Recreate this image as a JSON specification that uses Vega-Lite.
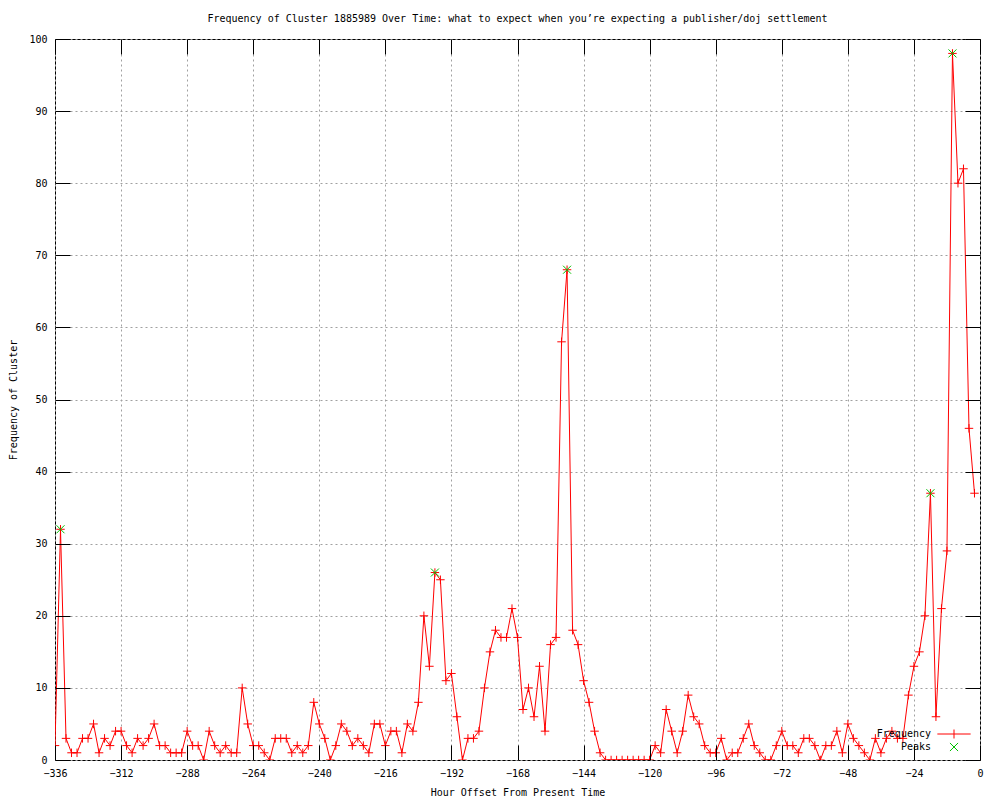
{
  "$schema": "https://vega.github.io/schema/vega-lite/v6.json",
  "width": 925,
  "height": 721,
  "autosize": {"type": "none"},
  "padding": {"left": 55, "top": 39, "right": 20, "bottom": 40},
  "background": "white",
  "title": {"text": "Frequency of Cluster 1885989 Over Time: what to expect when you’re expecting a publisher/doj settlement", "anchor": "middle", "offset": 10},
  "data": {"values": [
    {"h":-336,"f":2},{"h":-334,"f":32,"p":1},{"h":-332,"f":3},{"h":-330,"f":1},{"h":-328,"f":1},{"h":-326,"f":3},{"h":-324,"f":3},{"h":-322,"f":5},{"h":-320,"f":1},{"h":-318,"f":3},
    {"h":-316,"f":2},{"h":-314,"f":4},{"h":-312,"f":4},{"h":-310,"f":2},{"h":-308,"f":1},{"h":-306,"f":3},{"h":-304,"f":2},{"h":-302,"f":3},{"h":-300,"f":5},{"h":-298,"f":2},
    {"h":-296,"f":2},{"h":-294,"f":1},{"h":-292,"f":1},{"h":-290,"f":1},{"h":-288,"f":4},{"h":-286,"f":2},{"h":-284,"f":2},{"h":-282,"f":0},{"h":-280,"f":4},{"h":-278,"f":2},
    {"h":-276,"f":1},{"h":-274,"f":2},{"h":-272,"f":1},{"h":-270,"f":1},{"h":-268,"f":10},{"h":-266,"f":5},{"h":-264,"f":2},{"h":-262,"f":2},{"h":-260,"f":1},{"h":-258,"f":0},
    {"h":-256,"f":3},{"h":-254,"f":3},{"h":-252,"f":3},{"h":-250,"f":1},{"h":-248,"f":2},{"h":-246,"f":1},{"h":-244,"f":2},{"h":-242,"f":8},{"h":-240,"f":5},{"h":-238,"f":3},
    {"h":-236,"f":0},{"h":-234,"f":2},{"h":-232,"f":5},{"h":-230,"f":4},{"h":-228,"f":2},{"h":-226,"f":3},{"h":-224,"f":2},{"h":-222,"f":1},{"h":-220,"f":5},{"h":-218,"f":5},
    {"h":-216,"f":2},{"h":-214,"f":4},{"h":-212,"f":4},{"h":-210,"f":1},{"h":-208,"f":5},{"h":-206,"f":4},{"h":-204,"f":8},{"h":-202,"f":20},{"h":-200,"f":13},{"h":-198,"f":26,"p":1},
    {"h":-196,"f":25},{"h":-194,"f":11},{"h":-192,"f":12},{"h":-190,"f":6},{"h":-188,"f":0},{"h":-186,"f":3},{"h":-184,"f":3},{"h":-182,"f":4},{"h":-180,"f":10},{"h":-178,"f":15},
    {"h":-176,"f":18},{"h":-174,"f":17},{"h":-172,"f":17},{"h":-170,"f":21},{"h":-168,"f":17},{"h":-166,"f":7},{"h":-164,"f":10},{"h":-162,"f":6},{"h":-160,"f":13},{"h":-158,"f":4},
    {"h":-156,"f":16},{"h":-154,"f":17},{"h":-152,"f":58},{"h":-150,"f":68,"p":1},{"h":-148,"f":18},{"h":-146,"f":16},{"h":-144,"f":11},{"h":-142,"f":8},{"h":-140,"f":4},{"h":-138,"f":1},
    {"h":-136,"f":0},{"h":-134,"f":0},{"h":-132,"f":0},{"h":-130,"f":0},{"h":-128,"f":0},{"h":-126,"f":0},{"h":-124,"f":0},{"h":-122,"f":0},{"h":-120,"f":0},{"h":-118,"f":2},
    {"h":-116,"f":1},{"h":-114,"f":7},{"h":-112,"f":4},{"h":-110,"f":1},{"h":-108,"f":4},{"h":-106,"f":9},{"h":-104,"f":6},{"h":-102,"f":5},{"h":-100,"f":2},{"h":-98,"f":1},
    {"h":-96,"f":1},{"h":-94,"f":3},{"h":-92,"f":0},{"h":-90,"f":1},{"h":-88,"f":1},{"h":-86,"f":3},{"h":-84,"f":5},{"h":-82,"f":2},{"h":-80,"f":1},{"h":-78,"f":0},
    {"h":-76,"f":0},{"h":-74,"f":2},{"h":-72,"f":4},{"h":-70,"f":2},{"h":-68,"f":2},{"h":-66,"f":1},{"h":-64,"f":3},{"h":-62,"f":3},{"h":-60,"f":2},{"h":-58,"f":0},
    {"h":-56,"f":2},{"h":-54,"f":2},{"h":-52,"f":4},{"h":-50,"f":1},{"h":-48,"f":5},{"h":-46,"f":3},{"h":-44,"f":2},{"h":-42,"f":1},{"h":-40,"f":0},{"h":-38,"f":3},
    {"h":-36,"f":1},{"h":-34,"f":3},{"h":-32,"f":4},{"h":-30,"f":3},{"h":-28,"f":3},{"h":-26,"f":9},{"h":-24,"f":13},{"h":-22,"f":15},{"h":-20,"f":20},{"h":-18,"f":37,"p":1},
    {"h":-16,"f":6},{"h":-14,"f":21},{"h":-12,"f":29},{"h":-10,"f":98,"p":1},{"h":-8,"f":80},{"h":-6,"f":82},{"h":-4,"f":46},{"h":-2,"f":37}
  ]},
  "layer": [
    {
      "mark": {"type": "line", "strokeWidth": 1, "clip": true},
      "encoding": {
        "x": {"field": "h", "type": "quantitative", "scale": {"domain": [-336, 0], "nice": false, "zero": false},
              "axis": {"orient": "bottom", "values": [-336,-312,-288,-264,-240,-216,-192,-168,-144,-120,-96,-72,-48,-24,0], "title": null, "grid": true, "ticks": false, "labels": false}},
        "y": {"field": "f", "type": "quantitative", "scale": {"domain": [0, 100], "nice": false},
              "axis": {"orient": "left", "values": [0,10,20,30,40,50,60,70,80,90,100], "title": null, "grid": true, "ticks": false, "labels": false}},
        "color": {"datum": "Frequency", "scale": {"domain": ["Frequency", "Peaks"], "range": ["#ff0000", "#00c000"]},
                  "legend": {"orient": "none", "legendX": 894, "legendY": 690, "title": null, "padding": 0,
                             "labelFont": "DejaVu Sans Mono", "labelFontSize": 10, "labelColor": "black",
                             "labelAlign": "right", "labelOffset": -28, "symbolSize": 81, "rowPadding": -1,
                             "symbolStrokeWidth": 1,
                             "encode": {"symbols": {"update": {
                               "shape": {"signal": "datum.value === 'Frequency' ? 'M-3.7,0L3.7,0M0,-1L0,1' : 'M-0.9,-0.9L0.9,0.9M-0.9,0.9L0.9,-0.9'"},
                               "fill": {"value": "transparent"},
                               "strokeWidth": {"value": 1}}}}}}
      }
    },
    {
      "mark": {"type": "point", "shape": "M-1,0L1,0M0,-1L0,1", "size": 72, "filled": false, "strokeWidth": 1, "opacity": 1, "clip": true},
      "encoding": {
        "x": {"field": "h", "type": "quantitative", "axis": {"orient": "bottom", "offset": -15, "zindex": 2, "ticks": true, "tickColor": "#000000", "tickOpacity": 1, "tickWidth": 1, "values": [-336,-312,-288,-264,-240,-216,-192,-168,-144,-120,-96,-72,-48,-24,0], "grid": false, "title": "Hour Offset From Present Time", "labelFlush": false, "labelOverlap": false, "titlePadding": 9}},
        "y": {"field": "f", "type": "quantitative", "axis": {"orient": "left", "offset": -15, "zindex": 2, "ticks": true, "tickColor": "#000000", "tickOpacity": 1, "tickWidth": 1, "values": [0,10,20,30,40,50,60,70,80,90,100], "grid": false, "title": "Frequency of Cluster", "labelFlush": false, "labelOverlap": false, "titlePadding": 10}},
        "color": {"datum": "Frequency"}
      }
    },
    {
      "transform": [{"filter": "datum.p === 1"}],
      "mark": {"type": "point", "shape": "M-1,-1L1,1M-1,1L1,-1", "size": 64, "filled": false, "strokeWidth": 1, "opacity": 1, "clip": true},
      "encoding": {
        "x": {"field": "h", "type": "quantitative", "axis": {"orient": "top", "offset": -15, "zindex": 2, "ticks": true, "tickColor": "#000000", "tickOpacity": 1, "tickWidth": 1, "values": [-336,-312,-288,-264,-240,-216,-192,-168,-144,-120,-96,-72,-48,-24,0], "labels": false, "grid": false, "title": null}},
        "y": {"field": "f", "type": "quantitative", "axis": {"orient": "right", "offset": -15, "zindex": 2, "ticks": true, "tickColor": "#000000", "tickOpacity": 1, "tickWidth": 1, "values": [0,10,20,30,40,50,60,70,80,90,100], "labels": false, "grid": false, "title": null}},
        "color": {"datum": "Peaks"}
      }
    }
  ],
  "resolve": {"axis": {"x": "independent", "y": "independent"}},
  "config": {
    "view": {"stroke": "black", "strokeWidth": 1},
    "axis": {"domain": false, "labelFont": "DejaVu Sans Mono", "labelFontSize": 10, "labelColor": "black",
             "titleFont": "DejaVu Sans Mono", "titleFontSize": 10, "titleFontWeight": "normal", "titleColor": "black",
             "tickColor": "black", "tickSize": 15, "tickWidth": 1, "labelPadding": 8, "gridColor": "#a0a0a0", "gridDash": [2, 3], "gridOpacity": 1, "gridWidth": 1},
    "title": {"font": "DejaVu Sans Mono", "fontSize": 10, "fontWeight": "normal", "color": "black"}
  }
}
